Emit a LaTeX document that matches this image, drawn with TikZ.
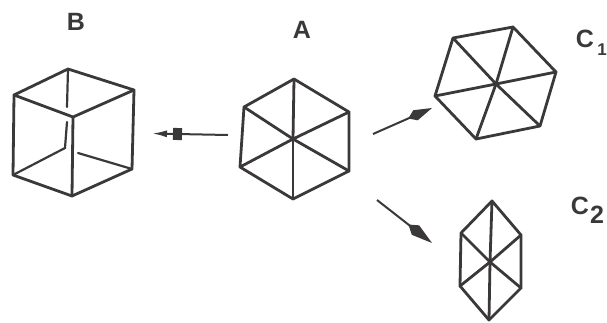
\documentclass[tikz,border=0pt]{standalone}
\usepackage{fontspec}
\setsansfont{Liberation Sans}
\usetikzlibrary{arrows.meta}
\definecolor{ink}{HTML}{3A3838}
\tikzset{edge/.style={line width=2.8pt,draw=ink,line cap=round,line join=round},thinedge/.style={line width=2.2pt,draw=ink,line cap=round},flow/.style={line width=2pt,draw=ink},letter/.style={font=\sffamily\bfseries\fontsize{25}{25}\selectfont,text=ink,inner sep=0pt}}
\begin{document}
\begin{tikzpicture}[x=1pt,y=-1pt]
\useasboundingbox (0,0) rectangle (607,322);
% labels
\node[letter] (labelb) at (76,22) {B};
\node[letter] (labela) at (302,30) {A};
\node[letter] (labelc) at (585,39) {C};
\node[letter,anchor=east,font=\sffamily\bfseries\fontsize{17}{17}\selectfont] (labelone) at (607,50) {1};
\node[letter] (labeld) at (580,206) {C};
\node[letter] (labeltwo) at (597,215) {2};
% cube B
\coordinate (b1) at (68,69);\coordinate (b2) at (134,90);\coordinate (b3) at (132,169);\coordinate (b4) at (72,196);\coordinate (b5) at (13,175);\coordinate (b6) at (14,95);\coordinate (bf) at (73,117);\coordinate (bk) at (65,148);
\coordinate (bgapa) at (67,107);\coordinate (bgapb) at (67,122);\coordinate (bgapc) at (78,153);
\draw[edge] (b1)--(b2)--(b3)--(b4)--(b5)--(b6)--cycle;
\draw[edge] (b6)--(bf)--(b2);\draw[edge] (bf)--(b4);
\draw[thinedge] (b1)--(bgapa);\draw[thinedge] (bgapb)--(bk)--(b5);\draw[thinedge] (bgapc)--(b3);
% hexagon A
\coordinate (a1) at (294,79);\coordinate (a2) at (349,112);\coordinate (a3) at (349,171);\coordinate (a4) at (293,199);\coordinate (a5) at (240,167);\coordinate (a6) at (244,107);\coordinate (ac) at (293,139);
\draw[edge] (a1)--(a2)--(a3)--(a4)--(a5)--(a6)--cycle;
\foreach \i in {1,...,6}{\draw[edge] (ac)--(a\i);}
% hexagon C1
\coordinate (c1) at (453,38);\coordinate (c2) at (513,27);\coordinate (c3) at (556,72);\coordinate (c4) at (540,126);\coordinate (c5) at (476,139);\coordinate (c6) at (435,96);\coordinate (cc) at (496,84);
\draw[edge] (c1)--(c2)--(c3)--(c4)--(c5)--(c6)--cycle;
\foreach \i in {1,...,6}{\draw[edge] (cc)--(c\i);}
% hexagon C2
\coordinate (d1) at (492,201);\coordinate (d2) at (521,235);\coordinate (d3) at (521,288);\coordinate (d4) at (489,320);\coordinate (d5) at (460,286);\coordinate (d6) at (461,233);\coordinate (dc) at (490,262);
\draw[edge] (d1)--(d2)--(d3)--(d4)--(d5)--(d6)--cycle;
\foreach \i in {1,...,6}{\draw[edge] (dc)--(d\i);}
% arrows
\coordinate (p1) at (228,135);\coordinate (p2) at (152,133.5);
\coordinate (q1) at (373,134);\coordinate (q2) at (432,108);
\coordinate (r1) at (377,200);\coordinate (r2) at (432,243);
\draw[flow,-{Square[length=9pt,width=12pt,sep=6pt] Latex[length=15pt,width=7pt]}] (p1)--(p2);
\draw[flow,-{Kite[length=26pt,width=11pt,inset=8pt]}] (q1)--(q2);
\draw[flow,-{Kite[length=30pt,width=12pt,inset=9pt]}] (r1)--(r2);
\end{tikzpicture}
\end{document}
